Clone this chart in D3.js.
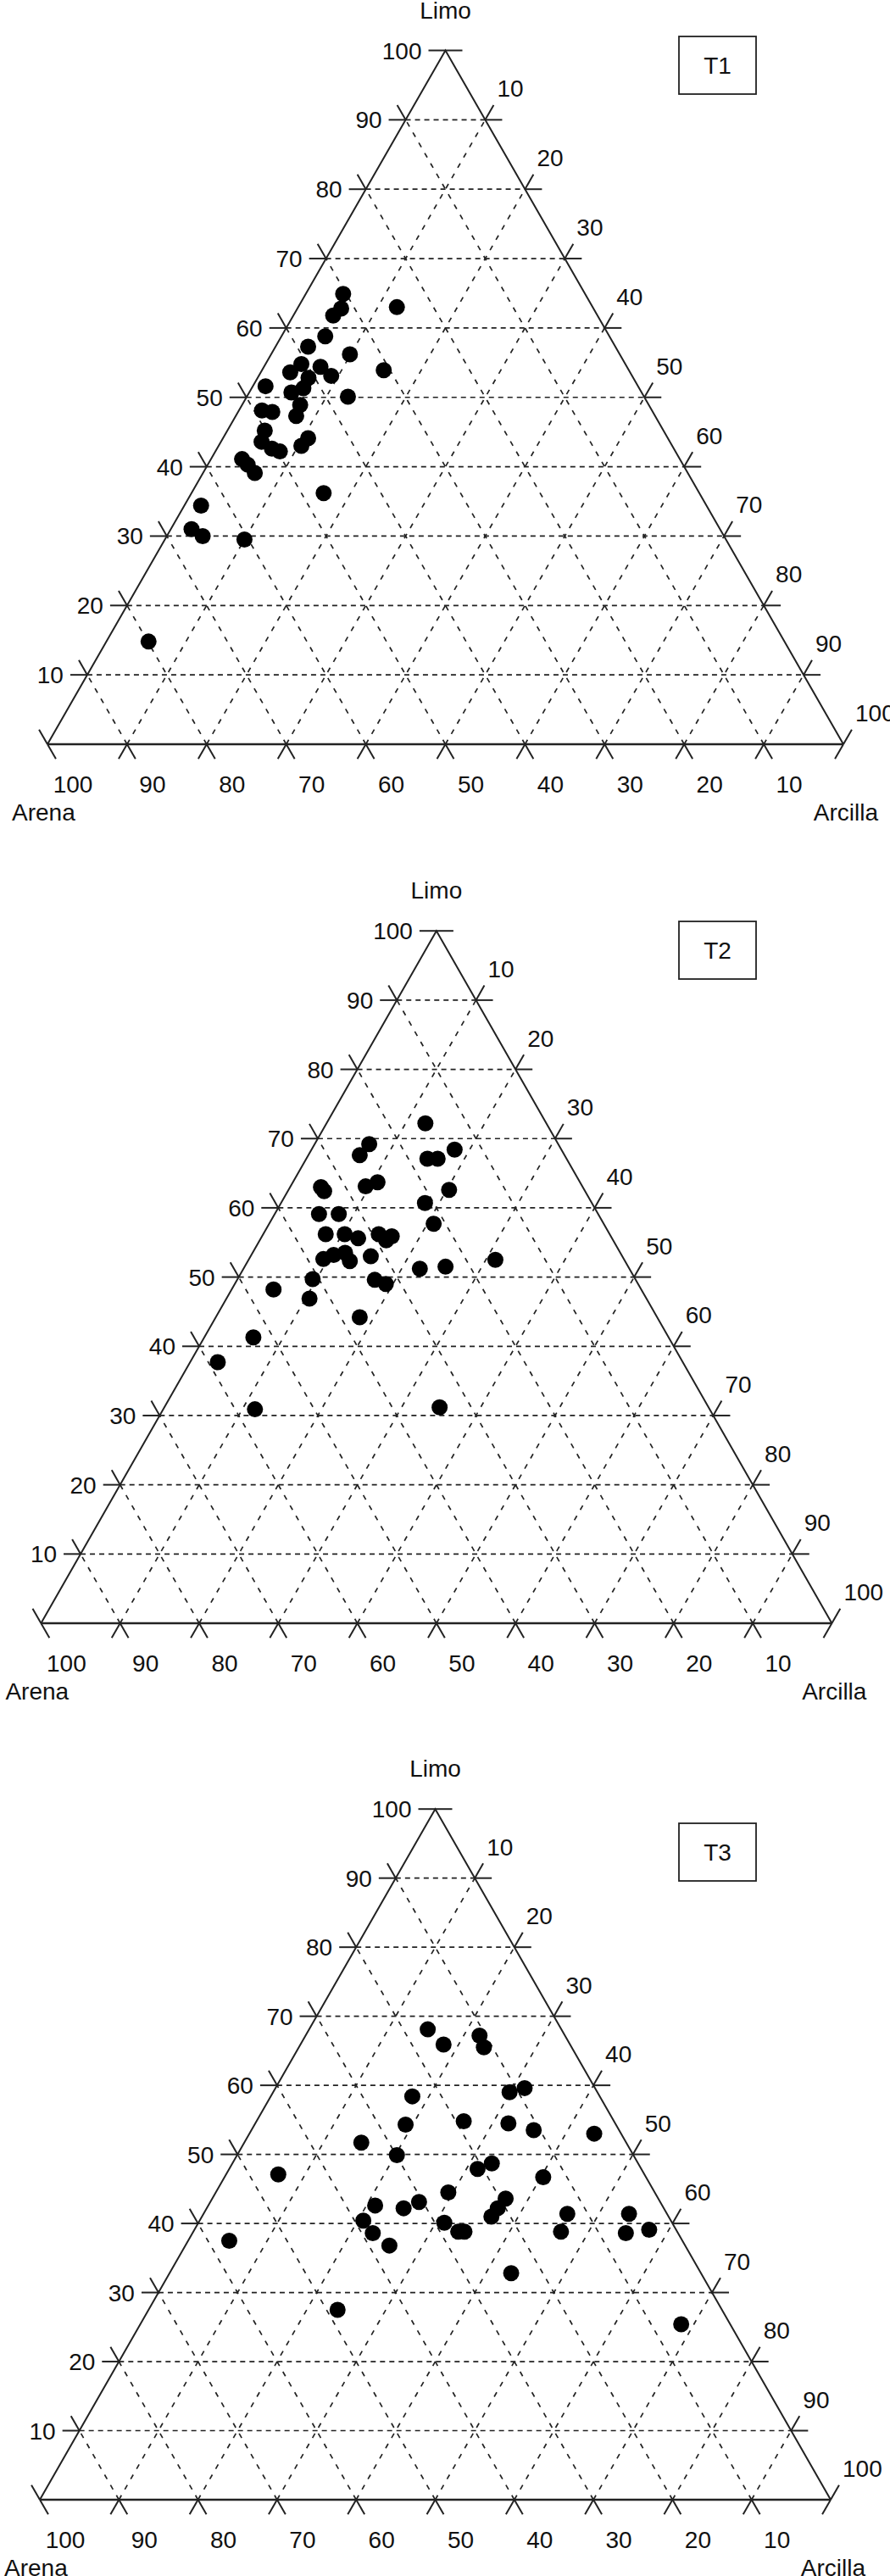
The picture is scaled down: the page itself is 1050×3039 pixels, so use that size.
<!DOCTYPE html>
<html>
<head>
<meta charset="utf-8">
<script src="https://d3js.org/d3.v7.min.js"></script>
<style>
  body { margin: 0; background: #fff; }
  text { font-family: "Liberation Sans", Arial, sans-serif; font-size: 28px; fill: #111; }
</style>
</head>
<body>
<div id="chart"></div>
<script>
// tick values used on the three sides
var tickValues = [10, 20, 30, 40, 50, 60, 70, 80, 90, 100];
var axisNames = ["Limo", "Arena", "Arcilla"];

// T1 samples: limo % and arcilla % (arena = 100 - limo - arcilla)
var t1Limo = [64.9, 63.0, 62.8, 61.8, 58.8, 57.3, 56.2, 54.8, 54.4, 53.9, 53.6, 53.1, 52.8, 51.6, 51.3, 50.7, 50.1, 48.9,
  48.1, 47.9, 47.3, 45.2, 44.1, 43.0, 43.6, 42.6, 42.2, 41.1, 40.3, 39.1, 36.2, 34.4, 31.0, 30.0, 29.5, 14.8];
var t1Arcilla = [4.7, 12.4, 5.5, 5.0, 5.5, 4.1, 9.9, 4.5, 7.1, 15.3, 3.7, 9.1, 6.4, 1.6, 6.5, 5.3, 12.7, 7.3,
  2.9, 4.3, 7.6, 4.7, 10.7, 10.4, 5.1, 6.9, 8.1, 3.9, 5.0, 6.5, 16.6, 2.1, 2.6, 4.5, 10.0, 5.3];

// T2 samples
var t2Limo = [72.2, 69.2, 67.6, 68.4, 67.1, 67.1, 63.7, 63.1, 63.0, 62.4, 62.6, 60.7, 59.1, 59.1, 57.7, 56.2, 56.2, 55.6,
  56.2, 55.9, 55.3, 52.6, 53.2, 53.5, 52.3, 53.0, 52.5, 51.2, 51.5, 49.7, 49.6, 49.0, 48.2, 46.9, 44.2, 41.3, 37.7, 30.9, 31.2];
var t2Arcilla = [12.5, 6.9, 6.5, 18.1, 15.3, 16.6, 10.7, 9.5, 3.9, 4.6, 20.3, 18.2, 5.6, 8.1, 20.8, 7.9, 10.3, 12.3,
  14.6, 16.4, 16.0, 9.4, 10.4, 11.7, 12.9, 15.2, 31.2, 22.3, 25.4, 9.5, 17.4, 19.1, 5.3, 10.5, 18.2, 6.2, 3.5, 11.6, 34.8];

// T3 samples
var t3Limo = [68.1, 65.9, 67.2, 65.5, 59.0, 59.6, 58.4, 54.8, 54.5, 54.3, 53.5, 53.0, 51.7, 49.9, 48.7, 47.9, 46.7, 44.5,
  43.6, 42.6, 43.1, 42.2, 42.2, 41.0, 41.4, 41.4, 40.4, 40.1, 38.8, 38.8, 38.8, 38.6, 39.1, 38.6, 36.8, 47.1, 37.5, 32.8, 27.5, 25.4];
var t3Arcilla = [15.0, 18.1, 22.0, 23.4, 29.9, 31.5, 17.9, 26.2, 32.0, 19.1, 35.7, 43.6, 14.8, 20.2, 32.8, 31.4, 40.3, 29.4,
  37.1, 21.1, 26.4, 24.9, 36.8, 36.6, 46.0, 53.8, 20.7, 31.1, 33.5, 34.3, 46.5, 54.8, 57.5, 22.8, 25.8, 6.6, 5.2, 43.2, 23.9, 68.4];

var svgWidth = 1050;
var svgHeight = 3039;

// where each triangle sits on the page
var panels = [
  { name: "T1", left: 56, right: 995, base: 878, top: 59.5, boxY: 43, limo: t1Limo, arcilla: t1Arcilla },
  { name: "T2", left: 48.4, right: 981.4, base: 1915, top: 1098.2, boxY: 1087, limo: t2Limo, arcilla: t2Arcilla },
  { name: "T3", left: 47, right: 980, base: 2949, top: 2134.2, boxY: 2151, limo: t3Limo, arcilla: t3Arcilla }
];

var svg = d3.select("#chart")
  .append("svg")
  .attr("width", svgWidth)
  .attr("height", svgHeight);

svg.append("rect")
  .attr("width", svgWidth)
  .attr("height", svgHeight)
  .attr("fill", "#fff");

panels.forEach(drawTernary);

function drawTernary(p) {

  var xScale = d3.scaleLinear().domain([0, 100]).range([p.left, p.right]);
  var yScale = d3.scaleLinear().domain([0, 100]).range([p.base, p.top]);

  // (limo, arcilla) -> page position
  function project(limo, arcilla) {
    return [xScale(arcilla + limo / 2), yScale(limo)];
  }

  function unit(a, b) {
    var dx = b[0] - a[0], dy = b[1] - a[1], n = Math.sqrt(dx * dx + dy * dy);
    return [dx / n, dy / n];
  }

  var g = svg.append("g");
  var line = d3.line();

  // dashed grid: horizontal limo lines, then the two slanted families
  var flatLines = [];
  var slantLines = [];
  d3.range(10, 100, 10).forEach(function(v) {
    flatLines.push([project(v, 0), project(v, 100 - v)]);         // limo = v
    slantLines.push([project(0, v), project(100 - v, v)]);        // arcilla = v
    slantLines.push([project(0, 100 - v), project(100 - v, 0)]);  // arena = v
  });

  g.selectAll(".flat")
    .data(flatLines)
    .enter()
    .append("path")
    .attr("class", "flat")
    .attr("d", line)
    .attr("fill", "none")
    .attr("stroke", "#222")
    .attr("stroke-width", 1.7)
    .attr("stroke-dasharray", "6,5");

  g.selectAll(".slant")
    .data(slantLines)
    .enter()
    .append("path")
    .attr("class", "slant")
    .attr("d", line)
    .attr("fill", "none")
    .attr("stroke", "#222")
    .attr("stroke-width", 1.7)
    .attr("stroke-dasharray", "6,8");

  // directions of the three line families
  var dirL = unit(project(0, 0), project(0, 100));
  var dirC = unit(project(0, 0), project(100, 0));
  var dirS = unit(project(0, 100), project(100, 0));
  var tickLen = 20;

  // ticks: every grid line sticks out past the sides
  var ticks = [];
  tickValues.forEach(function(v) {
    [[project(v, 0), project(v, 100 - v), dirL],
     [project(0, v), project(100 - v, v), dirC],
     [project(0, 100 - v), project(100 - v, 0), dirS]].forEach(function(s) {
      var a = s[0], b = s[1], d = s[2];
      ticks.push([[a[0] - d[0] * tickLen, a[1] - d[1] * tickLen], a]);
      ticks.push([b, [b[0] + d[0] * tickLen, b[1] + d[1] * tickLen]]);
    });
  });

  g.selectAll(".tick")
    .data(ticks)
    .enter()
    .append("path")
    .attr("class", "tick")
    .attr("d", line)
    .attr("stroke", "#222")
    .attr("stroke-width", 2);

  // triangle sides
  g.append("path")
    .attr("d", line([project(0, 0), project(100, 0), project(0, 100)]))
    .attr("fill", "none")
    .attr("stroke", "#222")
    .attr("stroke-width", 2);

  g.append("path")
    .attr("d", line([project(0, 0), project(0, 100)]))
    .attr("stroke", "#222")
    .attr("stroke-width", 2.6);

  // tick labels
  g.selectAll(".limoLabel")
    .data(tickValues)
    .enter()
    .append("text")
    .attr("x", d => project(d, 0)[0] - 28)
    .attr("y", d => project(d, 0)[1] + 10)
    .attr("text-anchor", "end")
    .text(d => d);

  g.selectAll(".arcillaLabel")
    .data(tickValues)
    .enter()
    .append("text")
    .attr("x", d => project(100 - d, d)[0] + 14)
    .attr("y", d => project(100 - d, d)[1] - 27)
    .attr("text-anchor", "start")
    .text(d => d);

  g.selectAll(".arenaLabel")
    .data(tickValues)
    .enter()
    .append("text")
    .attr("x", d => project(0, 100 - d)[0] + 30)
    .attr("y", d => project(0, 100 - d)[1] + 57)
    .attr("text-anchor", "middle")
    .text(d => d);

  // axis names
  g.append("text")
    .attr("x", xScale(50))
    .attr("y", p.top - 38)
    .attr("text-anchor", "middle")
    .text(axisNames[0]);

  g.append("text")
    .attr("x", p.left - 42)
    .attr("y", p.base + 90)
    .attr("text-anchor", "start")
    .text(axisNames[1]);

  g.append("text")
    .attr("x", p.right + 41)
    .attr("y", p.base + 90)
    .attr("text-anchor", "end")
    .text(axisNames[2]);

  // panel name box
  g.append("rect")
    .attr("x", 801)
    .attr("y", p.boxY)
    .attr("width", 91)
    .attr("height", 68)
    .attr("fill", "#fff")
    .attr("stroke", "#222")
    .attr("stroke-width", 1.8);

  g.append("text")
    .attr("x", 846.5)
    .attr("y", p.boxY + 44)
    .attr("text-anchor", "middle")
    .text(p.name);

  // samples
  g.selectAll(".sample")
    .data(d3.zip(p.limo, p.arcilla))
    .enter()
    .append("circle")
    .attr("class", "sample")
    .attr("cx", d => project(d[0], d[1])[0])
    .attr("cy", d => project(d[0], d[1])[1])
    .attr("r", 9.5)
    .attr("fill", "#000");
}
</script>
</body>
</html>
